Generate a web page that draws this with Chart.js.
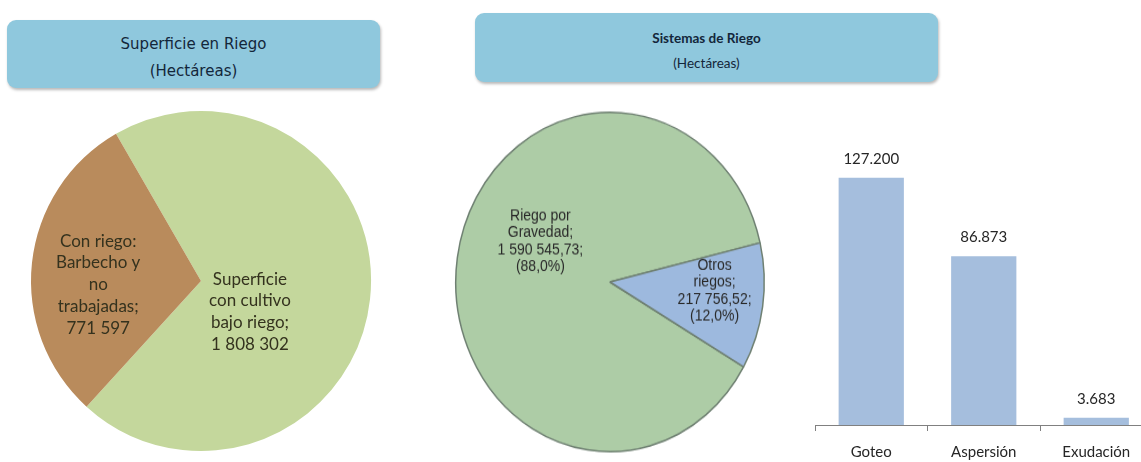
<!DOCTYPE html>
<html>
<head>
<meta charset="utf-8">
<script src="https://cdn.jsdelivr.net/npm/chart.js@4.4.1/dist/chart.umd.min.js"></script>
<style>
  html, body { margin: 0; padding: 0; background: #fff; width: 1141px; height: 462px; overflow: hidden; }
  .box { position: absolute; background: #8fc8dd; border-radius: 9px; box-shadow: 1px 2px 3px rgba(0,0,0,0.28); text-align: center; color: #13263a; }
  .box div { position: absolute; left: 0; right: 0; }
  .holder { position: absolute; }
</style>
</head>
<body>

<div class="box" style="left:7px; top:20px; width:373px; height:68px; font-family:'DejaVu Sans'; font-size:15px;">
  <div style="top:15px;">Superficie en Riego</div>
  <div style="top:42px;">(Hectáreas)</div>
</div>
<div class="box" style="left:475px; top:13px; width:463px; height:69px; font-family:Lato; font-size:13.5px;">
  <div style="top:17px; font-weight:bold;">Sistemas de Riego</div>
  <div style="top:42px;">(Hectáreas)</div>
</div>

<div class="holder" style="left:21px; top:101px; width:360px; height:360px;"><canvas id="pieSuperficie"></canvas></div>
<div class="holder" style="left:450px; top:106px; width:320px; height:320px; transform:scaleY(1.1); transform-origin:0 0;"><canvas id="pieSistemas"></canvas></div>
<div class="holder" style="left:795px; top:130px; width:370px; height:345px;"><canvas id="barMetodos"></canvas></div>

<script>
/* ===============================
   DATA
   =============================== */
const superficieLabels = [
  ["Superficie", "con cultivo", "bajo riego;"],
  ["Con riego:", "Barbecho y", "no", "trabajadas;"]
];
const superficieValues = [1808302, 771597];

const sistemaLabels = [
  ["Riego por", "Gravedad;"],
  ["Otros", "riegos;"]
];
const sistemaValues = [1590545.73, 217756.52];

const metodoLabels = ["Goteo", "Aspersión", "Exudación"];
const metodoValues = [127200, 86873, 3683];

/* ===============================
   NUMBER FORMATS
   =============================== */
function spaceFmt(n, dec) {
  const [i, d] = n.toFixed(dec).split(".");
  const grouped = i.replace(/\B(?=(\d{3})+(?!\d))/g, " ");
  return d ? grouped + "," + d : grouped;
}

function dotFmt(n) {
  return String(n).replace(/\B(?=(\d{3})+(?!\d))/g, ".");
}

/* ===============================
   LABEL PLUGINS
   =============================== */
const pieText = {
  id: "pieText",
  afterDatasetsDraw(chart, args, opts) {
    const ctx = chart.ctx;
    const arcs = chart.getDatasetMeta(0).data;
    ctx.save();
    ctx.font = opts.font;
    ctx.fillStyle = opts.color;
    ctx.textAlign = "center";
    ctx.textBaseline = "middle";
    arcs.forEach((arc, i) => {
      const p = opts.place[i];
      const a = (arc.startAngle + arc.endAngle) / 2 + p.turn * Math.PI / 180;
      const r = arc.outerRadius * p.dist;
      const cx = arc.x + Math.cos(a) * r;
      const cy = arc.y + Math.sin(a) * r;
      const lines = opts.lines[i];
      lines.forEach((t, k) => {
        ctx.fillText(t, cx, cy + (k - (lines.length - 1) / 2) * opts.step);
      });
    });
    ctx.restore();
  }
};

const barText = {
  id: "barText",
  afterDatasetsDraw(chart) {
    const ctx = chart.ctx;
    const meta = chart.getDatasetMeta(0);
    ctx.save();
    ctx.font = "15px Lato";
    ctx.fillStyle = "#262626";
    ctx.textAlign = "center";
    ctx.textBaseline = "middle";
    meta.data.forEach((bar, i) => {
      ctx.fillText(dotFmt(metodoValues[i]), bar.x, bar.y - 19);
    });
    ctx.restore();
  }
};

/* ===============================
   PIE – SUPERFICIE EN RIEGO
   =============================== */
new Chart(document.getElementById("pieSuperficie"), {
  type: "pie",
  data: {
    labels: superficieLabels.map(l => l.join(" ")),
    datasets: [{
      data: superficieValues,
      backgroundColor: ["#c4d79c", "#b98b5c"],
      borderWidth: 0
    }]
  },
  options: {
    responsive: true,
    maintainAspectRatio: false,
    animation: false,
    rotation: -30,
    layout: { padding: 10 },
    plugins: {
      legend: { display: false },
      tooltip: { enabled: false },
      pieText: {
        font: "17px Lato",
        color: "#34321e",
        step: 21.7,
        lines: superficieLabels.map((l, i) => l.concat(spaceFmt(superficieValues[i], 0))),
        place: [{ dist: 0.34, turn: 26 }, { dist: 0.605, turn: -8.2 }]
      }
    }
  },
  plugins: [pieText]
});

/* ===============================
   PIE – SISTEMAS DE RIEGO
   =============================== */
const sistemaTotal = sistemaValues.reduce((a, b) => a + b, 0);

new Chart(document.getElementById("pieSistemas"), {
  type: "pie",
  data: {
    labels: sistemaLabels.map(l => l.join(" ")),
    datasets: [{
      data: sistemaValues,
      backgroundColor: ["#adcca6", "#9db9de"],
      borderColor: "#6f8072",
      borderWidth: 1.5
    }]
  },
  options: {
    responsive: true,
    maintainAspectRatio: false,
    animation: false,
    rotation: 120,
    layout: { padding: 5 },
    plugins: {
      legend: { display: false },
      tooltip: { enabled: false },
      pieText: {
        font: "14px 'Liberation Sans'",
        color: "#2a2a2a",
        step: 15.5,
        lines: sistemaLabels.map((l, i) => l.concat(
          spaceFmt(sistemaValues[i], 2) + ";",
          "(" + (sistemaValues[i] / sistemaTotal * 100).toFixed(1).replace(".", ",") + "%)"
        )),
        place: [{ dist: 0.51, turn: 19.5 }, { dist: 0.68, turn: -4 }]
      }
    }
  },
  plugins: [pieText]
});

/* ===============================
   BARS – METODOS
   =============================== */
new Chart(document.getElementById("barMetodos"), {
  type: "bar",
  data: {
    labels: metodoLabels,
    datasets: [{
      data: metodoValues,
      backgroundColor: "#a5bedd",
      categoryPercentage: 1,
      barPercentage: 0.58
    }]
  },
  options: {
    responsive: true,
    maintainAspectRatio: false,
    animation: false,
    layout: { padding: { left: 20, right: 12.5, top: 23, bottom: 2 } },
    plugins: {
      legend: { display: false },
      tooltip: { enabled: false }
    },
    scales: {
      y: { display: false, min: 0, max: 140000 },
      x: {
        grid: { offset: true, drawOnChartArea: false, tickLength: 6, color: "#808080" },
        border: { color: "#808080", width: 1 },
        ticks: { padding: 12, color: "#262626", font: { family: "Lato", size: 15 } }
      }
    }
  },
  plugins: [barText]
});
</script>
</body>
</html>
